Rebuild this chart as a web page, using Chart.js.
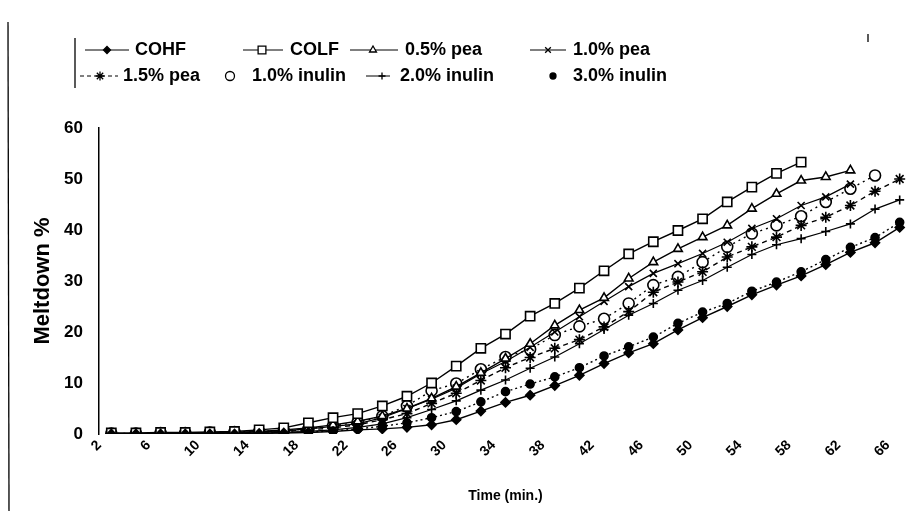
<!DOCTYPE html>
<html>
<head>
<meta charset="utf-8">
<script src="https://cdn.jsdelivr.net/npm/chart.js@4.4.1/dist/chart.umd.min.js"></script>
<style>
  html,body{margin:0;padding:0;background:#fff}
  #wrap{width:912px;height:511px}
</style>
</head>
<body>
<div id="wrap"><canvas id="c" width="912" height="511"></canvas></div>
<script>
// time axis (min.) - one point every 2 minutes
const times = [2,4,6,8,10,12,14,16,18,20,22,24,26,28,30,32,34,36,38,40,42,44,46,48,50,52,54,56,58,60,62,64,66];
const xTickLabels = ['2','6','10','14','18','22','26','30','34','38','42','46','50','54','58','62','66'];

// meltdown % per sample
const cohf      = [0,0,0,0,0,0,0.1,0.2,0.3,0.5, 0.8,1.0,1.3,1.8,2.8,4.5,6.2,7.6,9.5,11.5,13.8,15.9,17.7,20.4,22.8,25.0,27.3,29.2,31.0,33.2,35.6,37.5,40.5];
const colf      = [0.2,0.2,0.3,0.3,0.4,0.5,0.8,1.2,2.2,3.2, 4.0,5.5,7.4,10.0,13.3,16.8,19.6,23.1,25.6,28.6,32.0,35.3,37.7,39.9,42.2,45.5,48.4,51.1,53.3,null,null,null,null];
const pea05     = [0,0,0.1,0.1,0.2,0.3,0.5,0.8,1.2,1.8, 2.5,3.5,5.0,7.0,9.3,12.0,14.8,17.7,21.3,24.3,26.7,30.5,33.7,36.3,38.6,40.9,44.2,47.1,49.7,50.4,51.7,null,null];
const pea10     = [0,0,0.1,0.1,0.2,0.3,0.4,0.6,1.0,1.5, 2.0,3.2,5.0,6.8,9.0,11.8,14.2,17.0,20.0,23.0,26.0,28.9,31.5,33.4,35.4,37.6,40.3,42.2,44.8,46.5,49.0,null,null];
const pea15     = [0,0,0,0.1,0.1,0.2,0.3,0.5,0.8,1.2, 1.8,2.8,4.0,6.0,8.0,10.5,13.0,15.0,16.8,18.5,21.0,24.0,27.8,29.8,31.8,34.7,36.7,38.6,40.9,42.5,44.8,47.6,50.0];
const inulin10  = [0.1,0.1,0.2,0.2,0.3,0.4,0.5,0.7,1.0,1.6, 2.3,3.5,5.5,8.5,9.9,12.7,15.1,16.6,19.4,21.1,22.6,25.6,29.2,30.8,33.7,36.7,39.3,40.9,42.7,45.5,48.1,50.7,null];
const inulin20  = [0,0,0,0.1,0.1,0.2,0.2,0.3,0.5,0.8, 1.3,2.0,3.2,4.8,6.5,8.6,10.6,12.9,15.1,17.7,20.5,23.3,25.6,28.2,30.1,32.7,35.2,37.1,38.3,39.7,41.2,44.1,45.9];
const inulin30  = [0,0,0,0,0,0.1,0.2,0.3,0.4,0.6, 1.0,1.5,2.2,3.2,4.4,6.3,8.3,9.8,11.2,13.0,15.3,17.1,19.0,21.7,23.9,25.6,28.0,29.8,31.8,34.2,36.6,38.5,41.5];

const FONT = "'Liberation Sans', Arial, sans-serif";

function ds(label, data, style, radius, filled, dash, width){
  return {
    label, data,
    borderColor:'#000', borderWidth: width || 1.4, borderDash: dash || [],
    pointStyle: style, pointRadius: radius, pointBorderWidth: 1.6,
    pointBorderColor:'#000', pointBackgroundColor: filled ? '#000' : '#fff',
    fill:false, tension:0, spanGaps:false
  };
}

const datasets = [
  ds('COHF', cohf, 'rectRot', 4.5, true),
  ds('COLF', colf, 'rect', 6.5, false),
  ds('0.5% pea', pea05, 'triangle', 5, false),
  ds('1.0% pea', pea10, 'crossRot', 5, false, [], 1.2),
  ds('1.5% pea', pea15, 'star', 5.5, false, [5,4]),
  ds('1.0% inulin', inulin10, 'circle', 5.5, false, [2,4]),
  ds('2.0% inulin', inulin20, 'cross', 4.5, false, [], 1.2),
  ds('3.0% inulin', inulin30, 'circle', 4, true, [2,3])
];

// hand placed legend, two rows like the scanned figure
const legendSpots = [
  {x0:85,  x1:129, mx:107, y:50, tx:135, line:true},
  {x0:243, x1:283, mx:262, y:50, tx:290, line:true},
  {x0:350, x1:398, mx:373, y:50, tx:405, line:true},
  {x0:530, x1:566, mx:548, y:50, tx:573, line:true},
  {x0:80,  x1:118, mx:100, y:76, tx:123, line:true},
  {x0:230, x1:230, mx:230, y:76, tx:252, line:false},
  {x0:366, x1:390, mx:382, y:76, tx:400, line:true},
  {x0:553, x1:553, mx:553, y:76, tx:573, line:false}
];

const scanLegend = {
  id:'scanLegend',
  afterDraw(chart){
    const ctx = chart.ctx;
    ctx.save();
    ctx.strokeStyle = '#000';
    ctx.lineWidth = 1.3;
    // page edge and legend frame pieces
    ctx.beginPath(); ctx.moveTo(8,22); ctx.lineTo(9,511); ctx.stroke();
    ctx.beginPath(); ctx.moveTo(75,38); ctx.lineTo(75,88); ctx.stroke();
    ctx.beginPath(); ctx.moveTo(868,34); ctx.lineTo(868,42); ctx.stroke();
    chart.data.datasets.forEach((d,i)=>{
      const s = legendSpots[i];
      if(s.line){
        ctx.setLineDash(d.borderDash && d.borderDash.length ? [4,3] : []);
        ctx.lineWidth = 1;
        ctx.beginPath(); ctx.moveTo(s.x0,s.y); ctx.lineTo(s.x1,s.y); ctx.stroke();
        ctx.setLineDash([]);
      }
      ctx.fillStyle = d.pointBackgroundColor;
      ctx.strokeStyle = '#000';
      ctx.lineWidth = 1.3;
      if(Chart.helpers && Chart.helpers.drawPoint){
        Chart.helpers.drawPoint(ctx,{pointStyle:d.pointStyle, radius:Math.max(3,d.pointRadius-1), rotation:0, borderWidth:1.3}, s.mx, s.y);
      }
      ctx.fillStyle = '#000';
      ctx.font = 'bold 18px ' + FONT;
      ctx.textBaseline = 'middle';
      ctx.textAlign = 'left';
      ctx.fillText(d.label, s.tx, s.y);
    });
    ctx.restore();
  }
};

new Chart(document.getElementById('c'), {
  type:'line',
  data:{ labels: times.map(String), datasets },
  options:{
    responsive:false, animation:false, devicePixelRatio:1,
    layout:{ autoPadding:false, padding:{ top:128, left:0, right:0, bottom:0 } },
    plugins:{ legend:{display:false}, tooltip:{enabled:false} },
    scales:{
      x:{
        type:'category', offset:true,
        grid:{display:false}, border:{display:false},
        ticks:{
          autoSkip:false, maxRotation:45, minRotation:45, padding:-5, labelOffset:-12,
          color:'#000', font:{family:FONT, size:14, weight:'bold'},
          callback:function(v){ const l = this.getLabelForValue(v); return xTickLabels.includes(l) ? l : ''; }
        },
        title:{ display:true, text:'Time (min.)', color:'#000', font:{family:FONT, size:14, weight:'bold'}, padding:{top:0,bottom:6} },
        afterFit(s){ s.height = 77; s.paddingLeft = 0; s.paddingRight = 0; }
      },
      y:{
        min:0, max:60,
        grid:{display:false},
        border:{display:true, color:'#000', width:1.5},
        ticks:{ stepSize:10, padding:8, color:'#000', font:{family:FONT, size:17, weight:'bold'} },
        title:{ display:true, text:'Meltdown %', color:'#000', font:{family:FONT, size:22, weight:'bold'}, padding:{top:30,bottom:0} },
        afterFit(s){ s.width = 99; }
      }
    }
  },
  plugins:[scanLegend]
});
</script>
</body>
</html>
